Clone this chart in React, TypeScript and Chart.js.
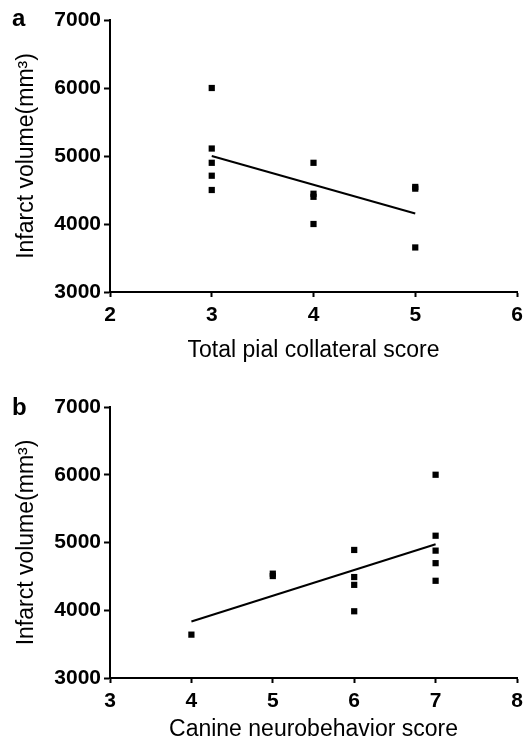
import React, { useEffect, useRef } from "react";
import { Chart, registerables } from "chart.js";

Chart.register(...registerables);

// ---- Data ----
const collateralScores = [3, 3, 3, 3, 3, 4, 4, 4, 4, 5, 5, 5];
const volumesA = [6000, 5110, 4900, 4710, 4500, 4900, 4445, 4400, 4000, 4545, 4520, 3655];
const fitAX = [3, 5];
const fitAY = [5000, 4155];

const neuroScores = [4, 5, 5, 6, 6, 6, 6, 7, 7, 7, 7, 7];
const volumesB = [3640, 4540, 4505, 4890, 4490, 4375, 3985, 6000, 5100, 4880, 4695, 4435];
const fitBX = [4, 7];
const fitBY = [3835, 4975];

const xRangeA = [2, 6];
const xRangeB = [3, 8];
const yRange = [3000, 7000];
const yStep = 1000;

const yTitle = "Infarct volume(mm³)";
const xTitleA = "Total pial collateral score";
const xTitleB = "Canine neurobehavior score";

const FONT = "'Liberation Sans', Arial, Helvetica, sans-serif";

type PanelProps = {
  letter: string;
  xTitle: string;
  xs: number[];
  ys: number[];
  fitX: number[];
  fitY: number[];
  xRange: number[];
  top: number;
  height: number;
  padTop: number;
  xScaleHeight: number;
  letterBaseline: number;
};

function Panel(p: PanelProps) {
  const ref = useRef<HTMLCanvasElement | null>(null);
  useEffect(() => {
    if (!ref.current) return;
    const letterPlugin = {
      id: "panelLetter",
      afterDraw(chart: any) {
        const ctx = chart.ctx;
        ctx.save();
        ctx.fillStyle = "#000";
        ctx.font = `bold 24px ${FONT}`;
        ctx.textAlign = "left";
        ctx.textBaseline = "alphabetic";
        ctx.fillText(p.letter, 12, p.letterBaseline);
        ctx.restore();
      },
    };
    const chart = new Chart(ref.current, {
      type: "scatter",
      data: {
        datasets: [
          {
            data: p.xs.map((x, i) => ({ x, y: p.ys[i] })),
            pointStyle: "rect",
            pointRadius: 4.4,
            pointBorderWidth: 0,
            backgroundColor: "#000",
            borderColor: "#000",
            showLine: false,
          },
          {
            data: p.fitX.map((x, i) => ({ x, y: p.fitY[i] })),
            showLine: true,
            pointRadius: 0,
            borderColor: "#000",
            borderWidth: 2,
            fill: false,
          },
        ],
      },
      options: {
        animation: false,
        responsive: false,
        devicePixelRatio: 1,
        layout: { padding: { left: 0, right: 8, top: p.padTop, bottom: 0 } },
        plugins: { legend: { display: false }, tooltip: { enabled: false } },
        scales: {
          x: {
            type: "linear",
            min: p.xRange[0],
            max: p.xRange[1],
            ticks: {
              stepSize: 1,
              color: "#000",
              padding: 6,
              font: { family: FONT, size: 21, weight: "bold" },
            },
            grid: {
              drawOnChartArea: false,
              drawTicks: true,
              tickLength: 5,
              tickWidth: 2,
              tickColor: "#000",
            },
            border: { display: true, color: "#000", width: 2 },
            title: {
              display: true,
              text: p.xTitle,
              color: "#000",
              font: { family: FONT, size: 23 },
              padding: { top: 0, bottom: 6 },
            },
            afterFit: (s: any) => {
              s.height = p.xScaleHeight;
              s.paddingLeft = 0;
              s.paddingRight = 0;
            },
          },
          y: {
            type: "linear",
            min: yRange[0],
            max: yRange[1],
            ticks: {
              stepSize: yStep,
              color: "#000",
              padding: 3,
              font: { family: FONT, size: 21, weight: "bold" },
              callback: (v: any) => String(v),
            },
            grid: {
              drawOnChartArea: false,
              drawTicks: true,
              tickLength: 6,
              tickWidth: 2,
              tickColor: "#000",
            },
            border: { display: true, color: "#000", width: 2 },
            title: {
              display: true,
              text: yTitle,
              color: "#000",
              font: { family: FONT, size: 23 },
              padding: { top: 13, bottom: 0 },
            },
            afterFit: (s: any) => {
              s.width = 110;
              s.paddingTop = 0;
              s.paddingBottom = 0;
            },
          },
        },
      },
      plugins: [letterPlugin],
    } as any);
    return () => chart.destroy();
  }, []);
  return (
    <canvas
      ref={ref}
      width={525}
      height={p.height}
      style={{ position: "absolute", left: 0, top: p.top, width: 525, height: p.height }}
    />
  );
}

export default function App() {
  return (
    <div style={{ position: "absolute", left: 0, top: 0, width: 525, height: 749, background: "#fff" }}>
      <Panel
        letter="a"
        xTitle={xTitleA}
        xs={collateralScores}
        ys={volumesA}
        fitX={fitAX}
        fitY={fitAY}
        xRange={xRangeA}
        top={0}
        height={370}
        padTop={20}
        xScaleHeight={78}
        letterBaseline={26}
      />
      <Panel
        letter="b"
        xTitle={xTitleB}
        xs={neuroScores}
        ys={volumesB}
        fitX={fitBX}
        fitY={fitBY}
        xRange={xRangeB}
        top={370}
        height={379}
        padTop={37}
        xScaleHeight={71}
        letterBaseline={45}
      />
    </div>
  );
}
